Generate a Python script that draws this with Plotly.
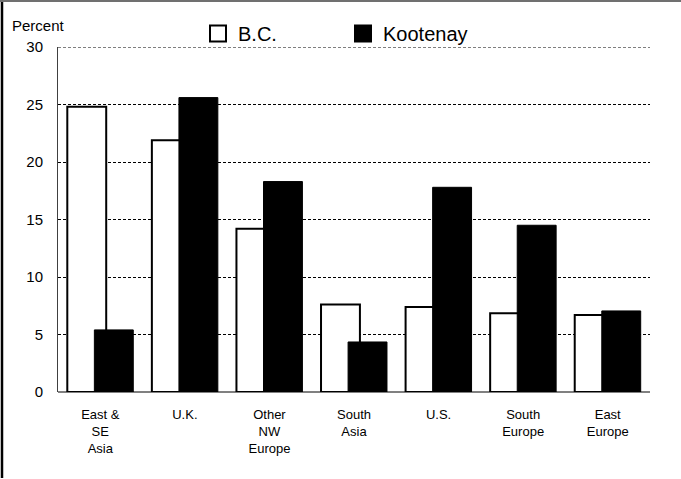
import plotly.graph_objects as go

categories = ["East &<br>SE<br>Asia", "U.K.", "Other<br>NW<br>Europe", "South<br>Asia",
              "U.S.", "South<br>Europe", "East<br>Europe"]
bc_values = [24.8, 21.9, 14.2, 7.6, 7.4, 6.85, 6.7]
kootenay_values = [5.4, 25.6, 18.3, 4.35, 17.8, 14.5, 7.05]
y_ticks = [0, 5, 10, 15, 20, 25, 30]

FONT = "Liberation Sans, Arial, sans-serif"
xpos = list(range(len(categories)))

fig = go.Figure()
fig.add_trace(go.Bar(
    x=xpos, y=bc_values, name="B.C.", offset=-0.39, width=0.46,
    marker=dict(color="white", line=dict(color="black", width=2)),
    showlegend=False,
))
fig.add_trace(go.Bar(
    x=xpos, y=kootenay_values, name="Kootenay", offset=-0.07, width=0.46,
    marker=dict(color="black", line=dict(color="black", width=1)),
    showlegend=False,
))
# legend entries
fig.add_trace(go.Scatter(
    x=[None], y=[None], mode="markers", name="B.C.",
    marker=dict(symbol="square", size=16, color="white", line=dict(color="black", width=2)),
))
fig.add_trace(go.Scatter(
    x=[None], y=[None], mode="markers", name="Kootenay",
    marker=dict(symbol="square", size=16, color="black", line=dict(color="black", width=2)),
))

fig.update_layout(
    width=681, height=479,
    margin=dict(l=58, r=31, t=47, b=87),
    paper_bgcolor="white", plot_bgcolor="white",
    barmode="overlay",
    font=dict(family=FONT, color="black"),
    legend=dict(orientation="h", x=(198 - 58) / 592, xanchor="left",
                y=(392 - 33.5) / 345, yanchor="middle",
                font=dict(size=20, family=FONT), bgcolor="rgba(0,0,0,0)",
                entrywidth=100, entrywidthmode="pixels",
                itemsizing="trace"),
    xaxis=dict(
        range=[-0.5, 6.5], tickmode="array", tickvals=xpos, ticktext=categories,
        showgrid=False, zeroline=False, showline=False, ticks="",
        tickfont=dict(size=13, family=FONT), ticklabelstandoff=13,
    ),
    yaxis=dict(
        range=[0, 30], tickmode="array", tickvals=y_ticks,
        showgrid=True, gridcolor="black", gridwidth=1, griddash="3px,2px",
        zeroline=True, zerolinecolor="#808080", zerolinewidth=2,
        showline=True, linecolor="#404040", linewidth=1, ticks="",
        tickfont=dict(size=15, family=FONT), ticklabelstandoff=11,
    ),
    annotations=[dict(
        text="Percent", xref="paper", yref="paper",
        x=(10 - 58) / 592, y=(392 - 25) / 345, xanchor="left", yanchor="middle",
        showarrow=False, font=dict(size=15, family=FONT),
    )],
    shapes=[
        # top gridline at the range edge (plotly skips gridlines on the edge)
        dict(type="line", xref="paper", yref="y", x0=0, x1=1, y0=y_ticks[-1], y1=y_ticks[-1],
             line=dict(color="black", width=1, dash="3px,2px")),
        dict(type="line", xref="paper", yref="paper",
             x0=(2 - 58) / 592, x1=(2 - 58) / 592, y0=(392 - 0) / 345, y1=(392 - 478) / 345,
             line=dict(color="black", width=2.5)),
        dict(type="line", xref="paper", yref="paper",
             x0=(0 - 58) / 592, x1=(681 - 58) / 592, y0=(392 - 1) / 345, y1=(392 - 1) / 345,
             line=dict(color="#707070", width=2)),
    ],
)

fig.write_html(
    "out.html",
    config={"displayModeBar": False},
    post_script="document.body.style.margin='0';document.body.style.overflow='hidden';",
)
